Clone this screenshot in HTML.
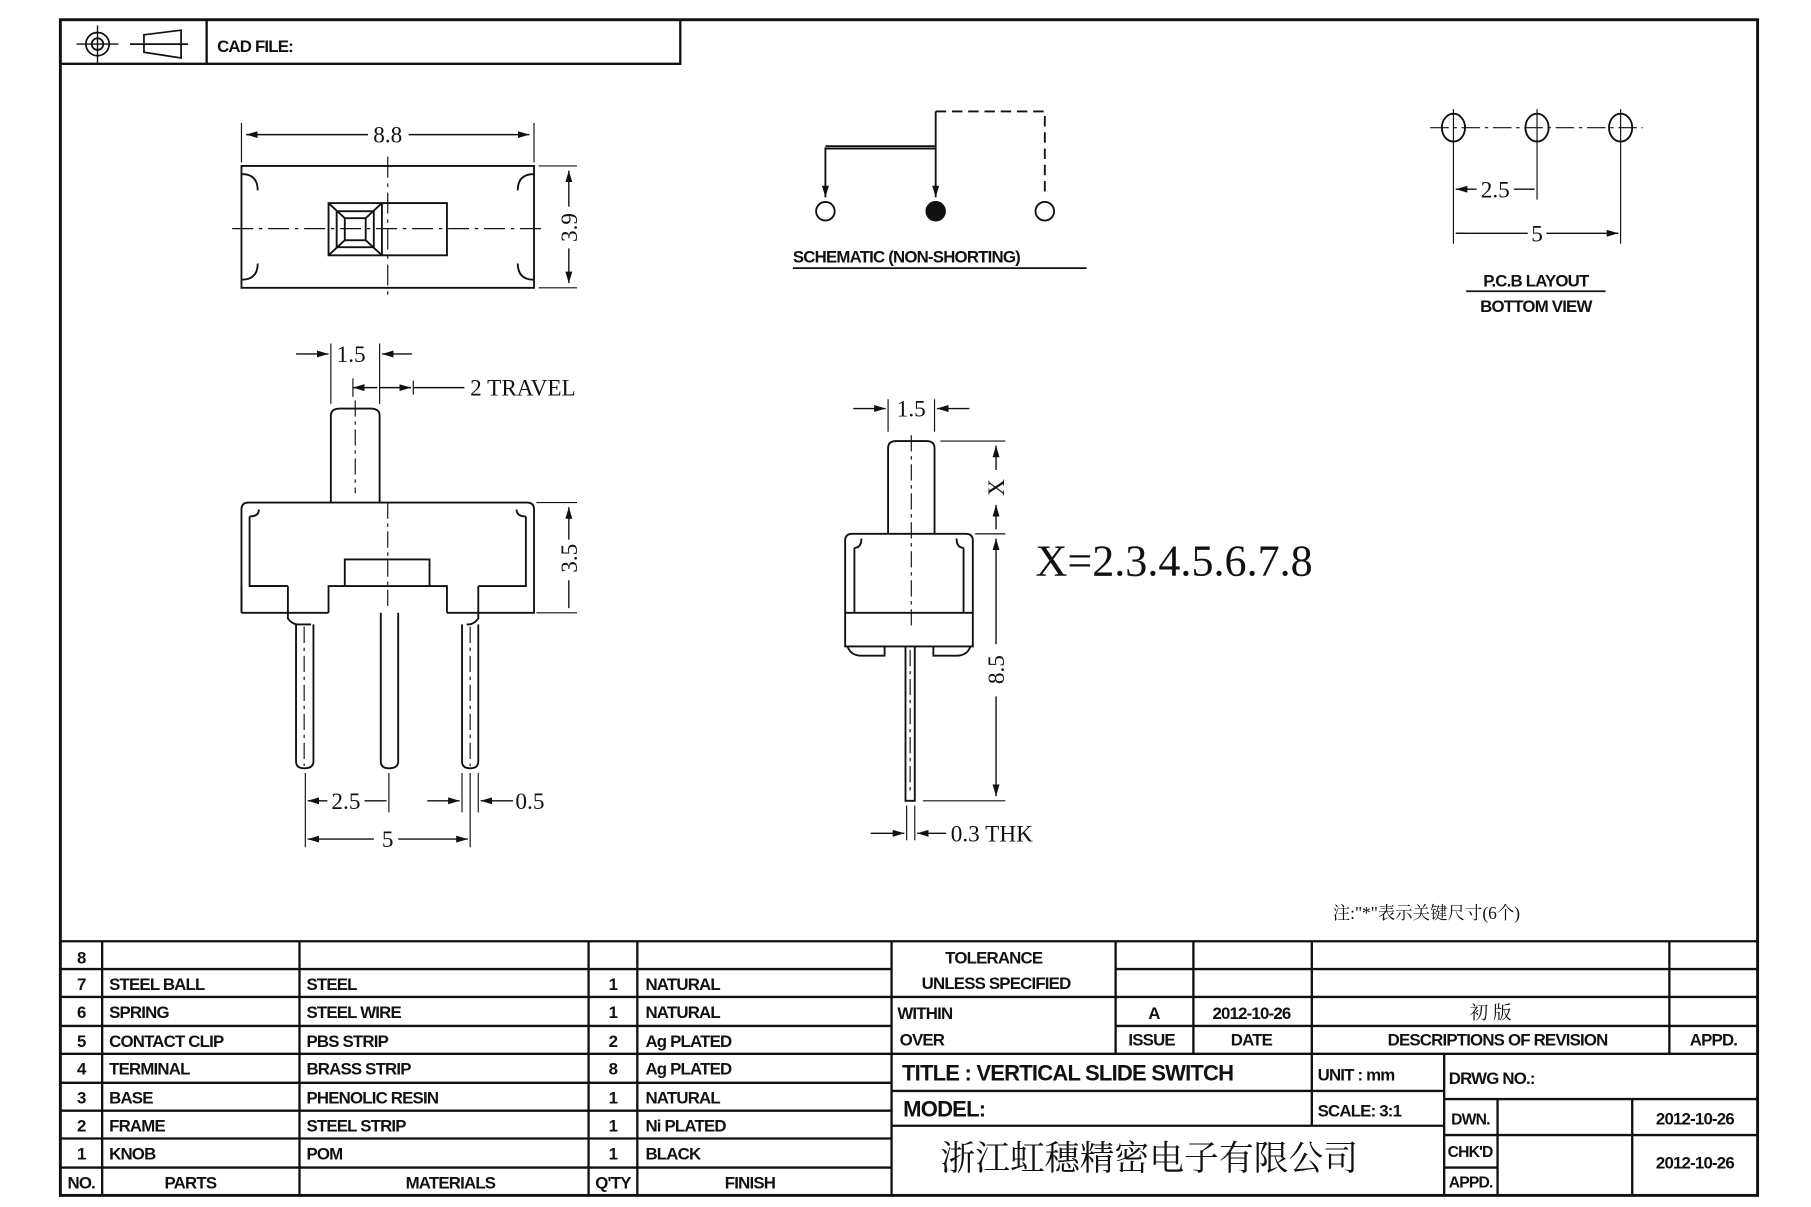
<!DOCTYPE html>
<html><head><meta charset="utf-8"><style>
html,body{margin:0;padding:0;background:#fff;}
svg{display:block;}
.t{font-family:"Liberation Sans Narrow","Liberation Sans",sans-serif;font-weight:bold;font-size:14.5px;letter-spacing:-0.7px;fill:#111;}
.d{font-family:"Liberation Serif",serif;font-size:20px;fill:#111;}
.c{text-anchor:middle;}
</style></head><body>
<svg width="1811" height="1207" viewBox="0 0 1560 1040" preserveAspectRatio="none" xmlns="http://www.w3.org/2000/svg">
<defs>
<marker id="a" viewBox="0 0 10 6" refX="10" refY="3" markerWidth="10" markerHeight="6" orient="auto-start-reverse" markerUnits="userSpaceOnUse"><path d="M0,0 L10,3 L0,6z" fill="#111"/></marker>
</defs>
<rect width="1560" height="1040" fill="#fff"/>
<g fill="none" stroke="#111">
<rect x="52" y="17" width="1462" height="1013" stroke-width="2.5"/>
<path d="M52 55 H586 V17 M178 17 V55" stroke-width="2"/>
<circle cx="84" cy="38" r="10" stroke-width="1.5"/><circle cx="84" cy="38" r="5" stroke-width="1.5"/>
<path d="M66 38 H102 M84 22 V54" stroke-width="1.2"/>
<path d="M112 38 H162 M124 30 L156 26 V50 L124 45 Z" stroke-width="1.5"/>

<g stroke-width="1.6">
<rect x="208" y="143" width="252" height="105"/>
<rect x="283" y="175" width="46" height="45"/>
<rect x="290" y="182" width="32" height="31"/>
<rect x="297" y="188" width="18" height="19"/>
<path d="M283 175 L297 188 M329 175 L315 188 M283 220 L297 207 M329 220 L315 207"/>
<path d="M329 175 H385 V220 H329"/>
<path d="M208 150 q14 0 14 14 M460 150 q-14 0 -14 14 M208 241 q14 0 14 -14 M460 241 q-14 0 -14 -14"/>
</g>
<path d="M200 197 H470 M334 135 V258" stroke-width="1" stroke-dasharray="18 5 3 5"/>
<path d="M208 140 V106 M460 140 V106 M464 143 H497 M464 248 H497" stroke-width="1"/>
<path d="M212 116 H317 M352 116 H456" stroke-width="1.2" marker-start="url(#a)" marker-end="url(#a)"/>
<path d="M490 147 V178 M490 214 V244" stroke-width="1.2" marker-start="url(#a)" marker-end="url(#a)"/>

<g stroke-width="1.6">
<path d="M285 433 V358 q0 -6 8 -6 H319 q8 0 8 6 V433"/>
<path d="M214 433 H454 q6 0 6 6 V528 H412 V533 q-4 5 -8 5 H402 M208 528 V439 q0 -6 6 -6"/>
<path d="M208 528 H248 V533 q4 5 8 5 H268 M208 505 V528 M215 445 V505 H248 M453 445 V505 H412 M412 505 V528"/>
<path d="M215 445 q8 0 8 -6 M453 445 q-8 0 -8 -6"/>
<path d="M248 528 V505 M283 528 V505 H385 V528 M297 505 V482 H370 V505 M248 528 H283 M385 528 H412 M248 505 H215"/>
<path d="M255 538 V656 q0 6 7 6 q8 0 8 -6 V538 M328 528 V656 q0 6 7 6 q8 0 8 -6 V528 M398 538 V656 q0 6 7 6 q7 0 7 -6 V538"/>
</g>
<path d="M306 345 V425 M334 433 V525 M262 540 V660 M405 540 V660" stroke-width="1" stroke-dasharray="14 4 3 4"/>
<path d="M285 296 V348 M327 296 V348 M304 326 V342 M356 328 V340 M263 666 V730 M335 666 V700 M405 666 V730 M398 666 V700 M412 666 V700 M462 433 H497 M462 528 H497" stroke-width="1"/>
<path d="M255 305 H283" stroke-width="1.2" marker-end="url(#a)"/>
<path d="M355 305 H329" stroke-width="1.2" marker-end="url(#a)"/>
<path d="M304 334 H325" stroke-width="1.2" marker-start="url(#a)"/>
<path d="M327 334 H354" stroke-width="1.2" marker-end="url(#a)"/>
<path d="M356 334 H400" stroke-width="1.2"/>
<path d="M490 437 V465 M490 500 V524" stroke-width="1.2" marker-start="url(#a)"/>
<path d="M265 690 H282 M314 690 H333" stroke-width="1.2" marker-start="url(#a)"/>
<path d="M368 690 H396" stroke-width="1.2" marker-end="url(#a)"/>
<path d="M442 690 H414" stroke-width="1.2" marker-end="url(#a)"/>
<path d="M265 723 H322" stroke-width="1.2" marker-start="url(#a)"/>
<path d="M343 723 H403" stroke-width="1.2" marker-end="url(#a)"/>

<g stroke-width="1.6">
<path d="M711 128 H806 M711 126 H806"/>
<path d="M711 127 V170" marker-end="url(#a)"/>
<path d="M806 96 V170" marker-end="url(#a)"/>
<path d="M806 96 H900 V170" stroke-dasharray="9 5" />
<circle cx="711" cy="182" r="8"/><circle cx="806" cy="182" r="8" fill="#111"/><circle cx="900" cy="182" r="8"/>
</g>
<path d="M683 231 H936" stroke-width="1.5"/>

<g stroke-width="1.6">
<ellipse cx="1252" cy="110" rx="10" ry="12"/><ellipse cx="1324" cy="110" rx="10" ry="12"/><ellipse cx="1396" cy="110" rx="10" ry="12"/>
</g>
<path d="M1232 110 H1415" stroke-width="1" stroke-dasharray="16 4 3 4"/>
<path d="M1252 94 V210 M1324 94 V172 M1396 94 V210" stroke-width="1"/>
<path d="M1254 163 H1272 M1304 163 H1322" stroke-width="1.2" marker-start="url(#a)"/>
<path d="M1254 201 H1316 M1332 201 H1394" stroke-width="1.2"/>
<path d="M1262 201 H1254 M1386 201 H1394" stroke-width="1.2" marker-end="url(#a)"/>
<path d="M1263 251 H1383" stroke-width="1.5"/>

<g stroke-width="1.6">
<path d="M765 460 V386 q0 -6 7 -6 H798 q7 0 7 6 V460"/>
<path d="M728 557 V466 q0 -6 6 -6 H832 q6 0 6 6 V557 Z M728 528 H838 M736 528 V472 M830 528 V472 M736 472 q6 0 6 -8 M830 472 q-6 0 -6 -8"/>
<path d="M730 557 q3 8 12 8 H762 V557 M836 557 q-3 8 -12 8 H804 V557"/>
<path d="M780 557 V690 H788 V557"/>
</g>
<path d="M785 375 V540 M784 560 V685" stroke-width="1" stroke-dasharray="14 4 3 4"/>
<path d="M765 344 V372 M805 344 V372 M810 380 H866 M840 460 H866 M795 690 H866 M781 694 V724 M788 694 V724" stroke-width="1"/>
<path d="M735 352 H763" stroke-width="1.2" marker-end="url(#a)"/>
<path d="M835 352 H807" stroke-width="1.2" marker-end="url(#a)"/>
<path d="M858 384 V405 M858 456 V435" stroke-width="1.2" marker-start="url(#a)" marker-end="url(#a)"/>
<path d="M858 464 V555 M858 600 V686" stroke-width="1.2" marker-start="url(#a)" marker-end="url(#a)"/>
<path d="M750 718 H779" stroke-width="1.2" marker-end="url(#a)"/>
<path d="M815 718 H790" stroke-width="1.2" marker-end="url(#a)"/>

<g stroke-width="2">
<path d="M52 811 H1514 M52 835 H768 M52 859 H1514 M52 884 H768 M52 908 H1514 M52 933 H768 M52 957 H768 M52 981 H768 M52 1006 H768"/>
<path d="M961 835 H1514 M961 884 H1514"/>
<path d="M88 811 V1030 M258 811 V1030 M507 811 V1030 M549 811 V1030 M768 811 V1030"/>
<path d="M961 811 V908 M1028 811 V908 M1130 811 V908 M1438 811 V908"/>
<path d="M768 940 H1244 M768 970 H1244 M1130 908 V970 M1244 908 V1030"/>
<path d="M1244 947 H1514 M1244 978 H1514 M1244 1006 H1290 M1290 947 V1030 M1406 947 V1030"/>
</g>
</g>

<text class="t" x="187" y="45" font-size="17">CAD FILE:</text>
<text class="d c" x="334" y="123">8.8</text>
<text class="d c" transform="translate(497,196) rotate(-90)">3.9</text>
<text class="d" x="290" y="312">1.5</text>
<text class="d" x="405" y="341">2 TRAVEL</text>
<text class="d c" transform="translate(497,481) rotate(-90)">3.5</text>
<text class="d c" x="298" y="697">2.5</text>
<text class="d" x="444" y="697">0.5</text>
<text class="d c" x="334" y="730">5</text>
<text class="t" x="683" y="226" font-size="17">SCHEMATIC (NON-SHORTING)</text>
<text class="d c" x="1288" y="170">2.5</text>
<text class="d c" x="1324" y="208">5</text>
<text class="t c" x="1323" y="247" font-size="17">P.C.B LAYOUT</text>
<text class="t c" x="1323" y="269" font-size="17">BOTTOM VIEW</text>
<text class="d c" x="785" y="359">1.5</text>
<text class="d c" transform="translate(865,420) rotate(-90)">X</text>
<text class="d c" transform="translate(865,577) rotate(-90)">8.5</text>
<text class="d" x="819" y="725">0.3 THK</text>
<text x="892" y="496" style="font-family:'Liberation Serif',serif;font-size:38px;fill:#111">X=2.3.4.5.6.7.8</text>
<text x="1148" y="792" style="font-family:'Liberation Serif','Noto Serif CJK SC',serif;font-size:15px;fill:#111">注:"*"表示关键尺寸(6个)</text>

<g class="t">
<text class="c" x="70" y="830">8</text>
<text class="c" x="70" y="853">7</text><text x="94" y="853">STEEL BALL</text><text x="264" y="853">STEEL</text><text class="c" x="528" y="853">1</text><text x="556" y="853">NATURAL</text>
<text class="c" x="70" y="877">6</text><text x="94" y="877">SPRING</text><text x="264" y="877">STEEL WIRE</text><text class="c" x="528" y="877">1</text><text x="556" y="877">NATURAL</text>
<text class="c" x="70" y="902">5</text><text x="94" y="902">CONTACT CLIP</text><text x="264" y="902">PBS STRIP</text><text class="c" x="528" y="902">2</text><text x="556" y="902">Ag PLATED</text>
<text class="c" x="70" y="926">4</text><text x="94" y="926">TERMINAL</text><text x="264" y="926">BRASS STRIP</text><text class="c" x="528" y="926">8</text><text x="556" y="926">Ag PLATED</text>
<text class="c" x="70" y="951">3</text><text x="94" y="951">BASE</text><text x="264" y="951">PHENOLIC RESIN</text><text class="c" x="528" y="951">1</text><text x="556" y="951">NATURAL</text>
<text class="c" x="70" y="975">2</text><text x="94" y="975">FRAME</text><text x="264" y="975">STEEL STRIP</text><text class="c" x="528" y="975">1</text><text x="556" y="975">Ni PLATED</text>
<text class="c" x="70" y="999">1</text><text x="94" y="999">KNOB</text><text x="264" y="999">POM</text><text class="c" x="528" y="999">1</text><text x="556" y="999">BLACK</text>
<text class="c" x="70" y="1024">NO.</text><text class="c" x="164" y="1024">PARTS</text><text class="c" x="388" y="1024">MATERIALS</text><text class="c" x="528" y="1024">Q'TY</text><text class="c" x="646" y="1024">FINISH</text>
<text class="c" x="856" y="830">TOLERANCE</text>
<text class="c" x="858" y="852">UNLESS  SPECIFIED</text>
<text x="773" y="878">WITHIN</text><text x="775" y="901">OVER</text>
<text class="c" x="994" y="878">A</text><text class="c" x="1078" y="878">2012-10-26</text>
<text class="c" x="992" y="901">ISSUE</text><text class="c" x="1078" y="901">DATE</text>
<text class="c" x="1290" y="901">DESCRIPTIONS OF REVISION</text><text class="c" x="1476" y="901">APPD.</text>
<text x="777" y="931" font-size="19">TITLE :  VERTICAL SLIDE SWITCH</text>
<text x="1135" y="931">UNIT :  mm</text>
<text x="778" y="962" font-size="19">MODEL:</text>
<text x="1135" y="962">SCALE:  3:1</text>
<text x="1248" y="934">DRWG NO.:</text>
<text x="1250" y="969" font-size="13.5">DWN.</text>
<text x="1247" y="997" font-size="13.5">CHK'D</text>
<text x="1248" y="1023" font-size="13.5">APPD.</text>
<text class="c" x="1460" y="969">2012-10-26</text>
<text class="c" x="1460" y="1007">2012-10-26</text>
</g>
<text x="1284" y="878" text-anchor="middle" style="font-family:'Noto Serif CJK SC',serif;font-size:16px;fill:#111">初 版</text>
<text x="810" y="1008" style="font-family:'Noto Serif CJK SC','Noto Sans CJK SC',serif;font-size:30px;fill:#111">浙江虹穗精密电子有限公司</text>
</svg>
</body></html>
